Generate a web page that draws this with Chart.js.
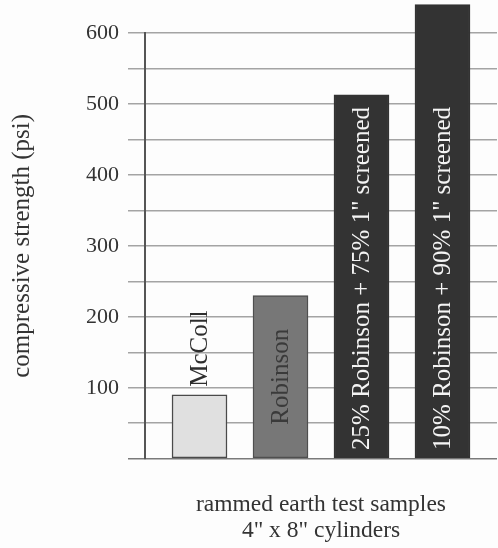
<!DOCTYPE html>
<html>
<head>
<meta charset="utf-8">
<script src="https://cdn.jsdelivr.net/npm/chart.js@4/dist/chart.umd.min.js"></script>
<style>
  html, body { margin: 0; padding: 0; background: #fdfdfd; }
  canvas { display: block; }
</style>
</head>
<body>
<canvas id="c" width="498" height="548"></canvas>
<script>
// Rammed earth sample groups and their compressive strengths (psi)
const categories = [
  'McColl',
  'Robinson',
  '25% Robinson + 75% 1" screened',
  '10% Robinson + 90% 1" screened'
];
const strengths = [90, 230, 513, 640];

// Y-axis range and tick spacing
const yTickStep = 50;
const yLabelStep = 100;
const yMax = 600;

// X-axis title lines
const xTitleLines = ['rammed earth test samples', '4" x 8" cylinders'];
const yTitle = 'compressive strength (psi)';

const fills   = ['#e0e0e0', '#777777', '#333333', '#333333'];
const borders = ['#4a4a4a', '#4f4f4f', '#333333', '#333333'];
const labelColors = ['#2e2e2e', '#3a3a3a', '#f4f4f4', '#f4f4f4'];
// where each name sits relative to its bar
const labelModes = ['above', 'center', 'base', 'base'];

const SERIF = "'Liberation Serif', 'DejaVu Serif', serif";

// Writes each category name vertically on (or above) its bar
const barNames = {
  id: 'barNames',
  afterDatasetsDraw(chart) {
    const ctx = chart.ctx;
    const meta = chart.getDatasetMeta(0);
    ctx.save();
    ctx.font = '25px ' + SERIF;
    ctx.textBaseline = 'middle';
    meta.data.forEach((bar, i) => {
      const text = categories[i];
      const w = ctx.measureText(text).width;
      let start;
      if (labelModes[i] === 'above') start = bar.y - 8;
      else if (labelModes[i] === 'center') start = (bar.y + bar.base) / 2 + w / 2;
      else start = bar.base - 8;
      ctx.save();
      ctx.translate(bar.x + 1, start);
      ctx.rotate(-Math.PI / 2);
      ctx.textAlign = 'left';
      ctx.fillStyle = labelColors[i];
      ctx.fillText(text, 0, 0);
      ctx.restore();
    });
    ctx.restore();
  }
};

new Chart(document.getElementById('c'), {
  type: 'bar',
  data: {
    datasets: [{
      data: strengths.map((v, i) => ({ x: i, y: v })),
      backgroundColor: fills,
      borderColor: borders,
      borderWidth: 1.5,
      borderSkipped: false,
      barThickness: 55,
      clip: false
    }]
  },
  options: {
    responsive: false,
    animation: false,
    devicePixelRatio: 1,
    layout: { padding: { top: 33, right: 1, left: 0, bottom: 0 } },
    plugins: { legend: { display: false }, tooltip: { enabled: false } },
    scales: {
      x: {
        type: 'linear',
        offset: false,
        min: -0.673,
        max: 3.673,
        grid: { display: false, offset: false },
        border: { display: false },
        ticks: { display: false },
        afterFit(scale) { scale.height = 89.3; },
        title: {
          display: true,
          text: xTitleLines,
          color: '#333',
          font: { family: SERIF, size: 23.5, lineHeight: 1.07 },
          padding: { top: 0, bottom: 5 }
        }
      },
      y: {
        min: 0,
        max: yMax,
        afterFit(scale) { scale.width = 145; },
        ticks: {
          stepSize: yTickStep,
          includeBounds: false,
          padding: 9,
          color: '#333',
          font: { family: SERIF, size: 22 },
          callback: (v) => (v % yLabelStep === 0 && v !== 0) ? String(v) : ''
        },
        grid: {
          color: (c) => c.tick && c.tick.value === 0 ? '#7a7a7a' : '#a4a4a4',
          lineWidth: 1.5,
          tickLength: 17,
          drawTicks: true
        },
        border: { display: true, color: '#555', width: 2 },
        title: {
          display: true,
          text: yTitle,
          color: '#333',
          font: { family: SERIF, size: 25 },
          padding: { top: 7, bottom: 0 }
        }
      }
    }
  },
  plugins: [barNames]
});
</script>
</body>
</html>
